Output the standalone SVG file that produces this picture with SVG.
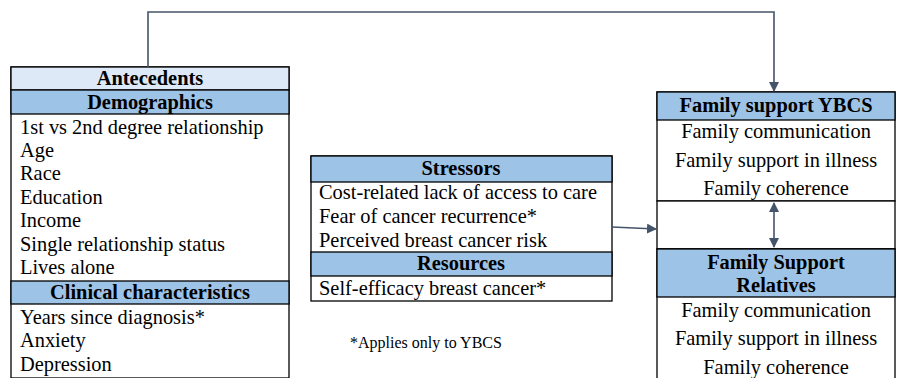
<svg xmlns="http://www.w3.org/2000/svg" width="898" height="378" viewBox="0 0 898 378" font-family="'Liberation Serif', 'Times New Roman', serif" font-size="20.4">
<defs>
<marker id="ah" markerWidth="10" markerHeight="10" refX="9" refY="5" orient="auto" markerUnits="userSpaceOnUse">
<path d="M0,0 L10,5 L0,10 z" fill="#44546a"/>
</marker>
<marker id="as" markerWidth="10" markerHeight="10" refX="1" refY="5" orient="auto" markerUnits="userSpaceOnUse">
<path d="M10,0 L0,5 L10,10 z" fill="#44546a"/>
</marker>
<style>
.box{fill:#fff;stroke:#000;stroke-width:1.3}
.hd{fill:#9dc3e6;stroke:#000;stroke-width:1.3}
.hl{fill:#dde9f6;stroke:#000;stroke-width:1.3}
.b{font-weight:bold;text-anchor:middle}
.c{text-anchor:middle}
.con{fill:none;stroke:#44546a;stroke-width:1.6}
</style>
</defs>
<rect width="898" height="378" fill="#fff"/>
<g id="antecedents">
<rect class="box" x="11" y="67" width="278" height="311"/>
<rect class="hl" x="11" y="67" width="278" height="23"/>
<rect class="hd" x="11" y="90" width="278" height="24"/>
<rect class="hd" x="11" y="281" width="278" height="23"/>
<text class="b" x="150" y="85">Antecedents</text>
<text class="b" x="150" y="109">Demographics</text>
<text x="20" y="134">1st vs 2nd degree relationship</text>
<text x="20" y="157">Age</text>
<text x="20" y="180">Race</text>
<text x="20" y="204">Education</text>
<text x="20" y="227">Income</text>
<text x="20" y="251">Single relationship status</text>
<text x="20" y="274">Lives alone</text>
<text class="b" x="150" y="299">Clinical characteristics</text>
<text x="20" y="324">Years since diagnosis*</text>
<text x="20" y="347">Anxiety</text>
<text x="20" y="371">Depression</text>
</g>
<g id="stressors">
<rect class="box" x="311" y="156" width="301" height="145"/>
<rect class="hd" x="311" y="156" width="301" height="26"/>
<rect class="hd" x="311" y="252" width="301" height="24"/>
<text class="b" x="461" y="175">Stressors</text>
<text x="319" y="199">Cost-related lack of access to care</text>
<text x="319" y="223">Fear of cancer recurrence*</text>
<text x="319" y="247">Perceived breast cancer risk</text>
<text class="b" x="461" y="270">Resources</text>
<text x="319" y="295">Self-efficacy breast cancer*</text>
</g>
<g id="family-ybcs">
<rect class="box" x="657" y="92" width="238" height="109"/>
<rect class="hd" x="657" y="92" width="238" height="28"/>
<text class="b" x="776" y="112">Family support YBCS</text>
<text class="c" x="776" y="138">Family communication</text>
<text class="c" x="776" y="167">Family support in illness</text>
<text class="c" x="776" y="195">Family coherence</text>
</g>
<g id="gap">
<rect class="box" x="657" y="201" width="238" height="48"/>
</g>
<g id="family-relatives">
<rect class="box" x="657" y="249" width="238" height="140"/>
<rect class="hd" x="657" y="249" width="238" height="48"/>
<text class="b" x="776" y="269">Family Support</text>
<text class="b" x="776" y="292">Relatives</text>
<text class="c" x="776" y="317">Family communication</text>
<text class="c" x="776" y="345">Family support in illness</text>
<text class="c" x="776" y="374">Family coherence</text>
</g>
<g id="footnote">
<text x="350" y="348" font-size="16">*Applies only to YBCS</text>
</g>
<g id="connectors">
<path class="con" d="M148,67 V12 H774 V91" marker-end="url(#ah)"/>
<path class="con" d="M612,227 L656,229" marker-end="url(#ah)"/>
<path class="con" d="M774,203 V247" marker-start="url(#as)" marker-end="url(#ah)"/>
</g>
</svg>
